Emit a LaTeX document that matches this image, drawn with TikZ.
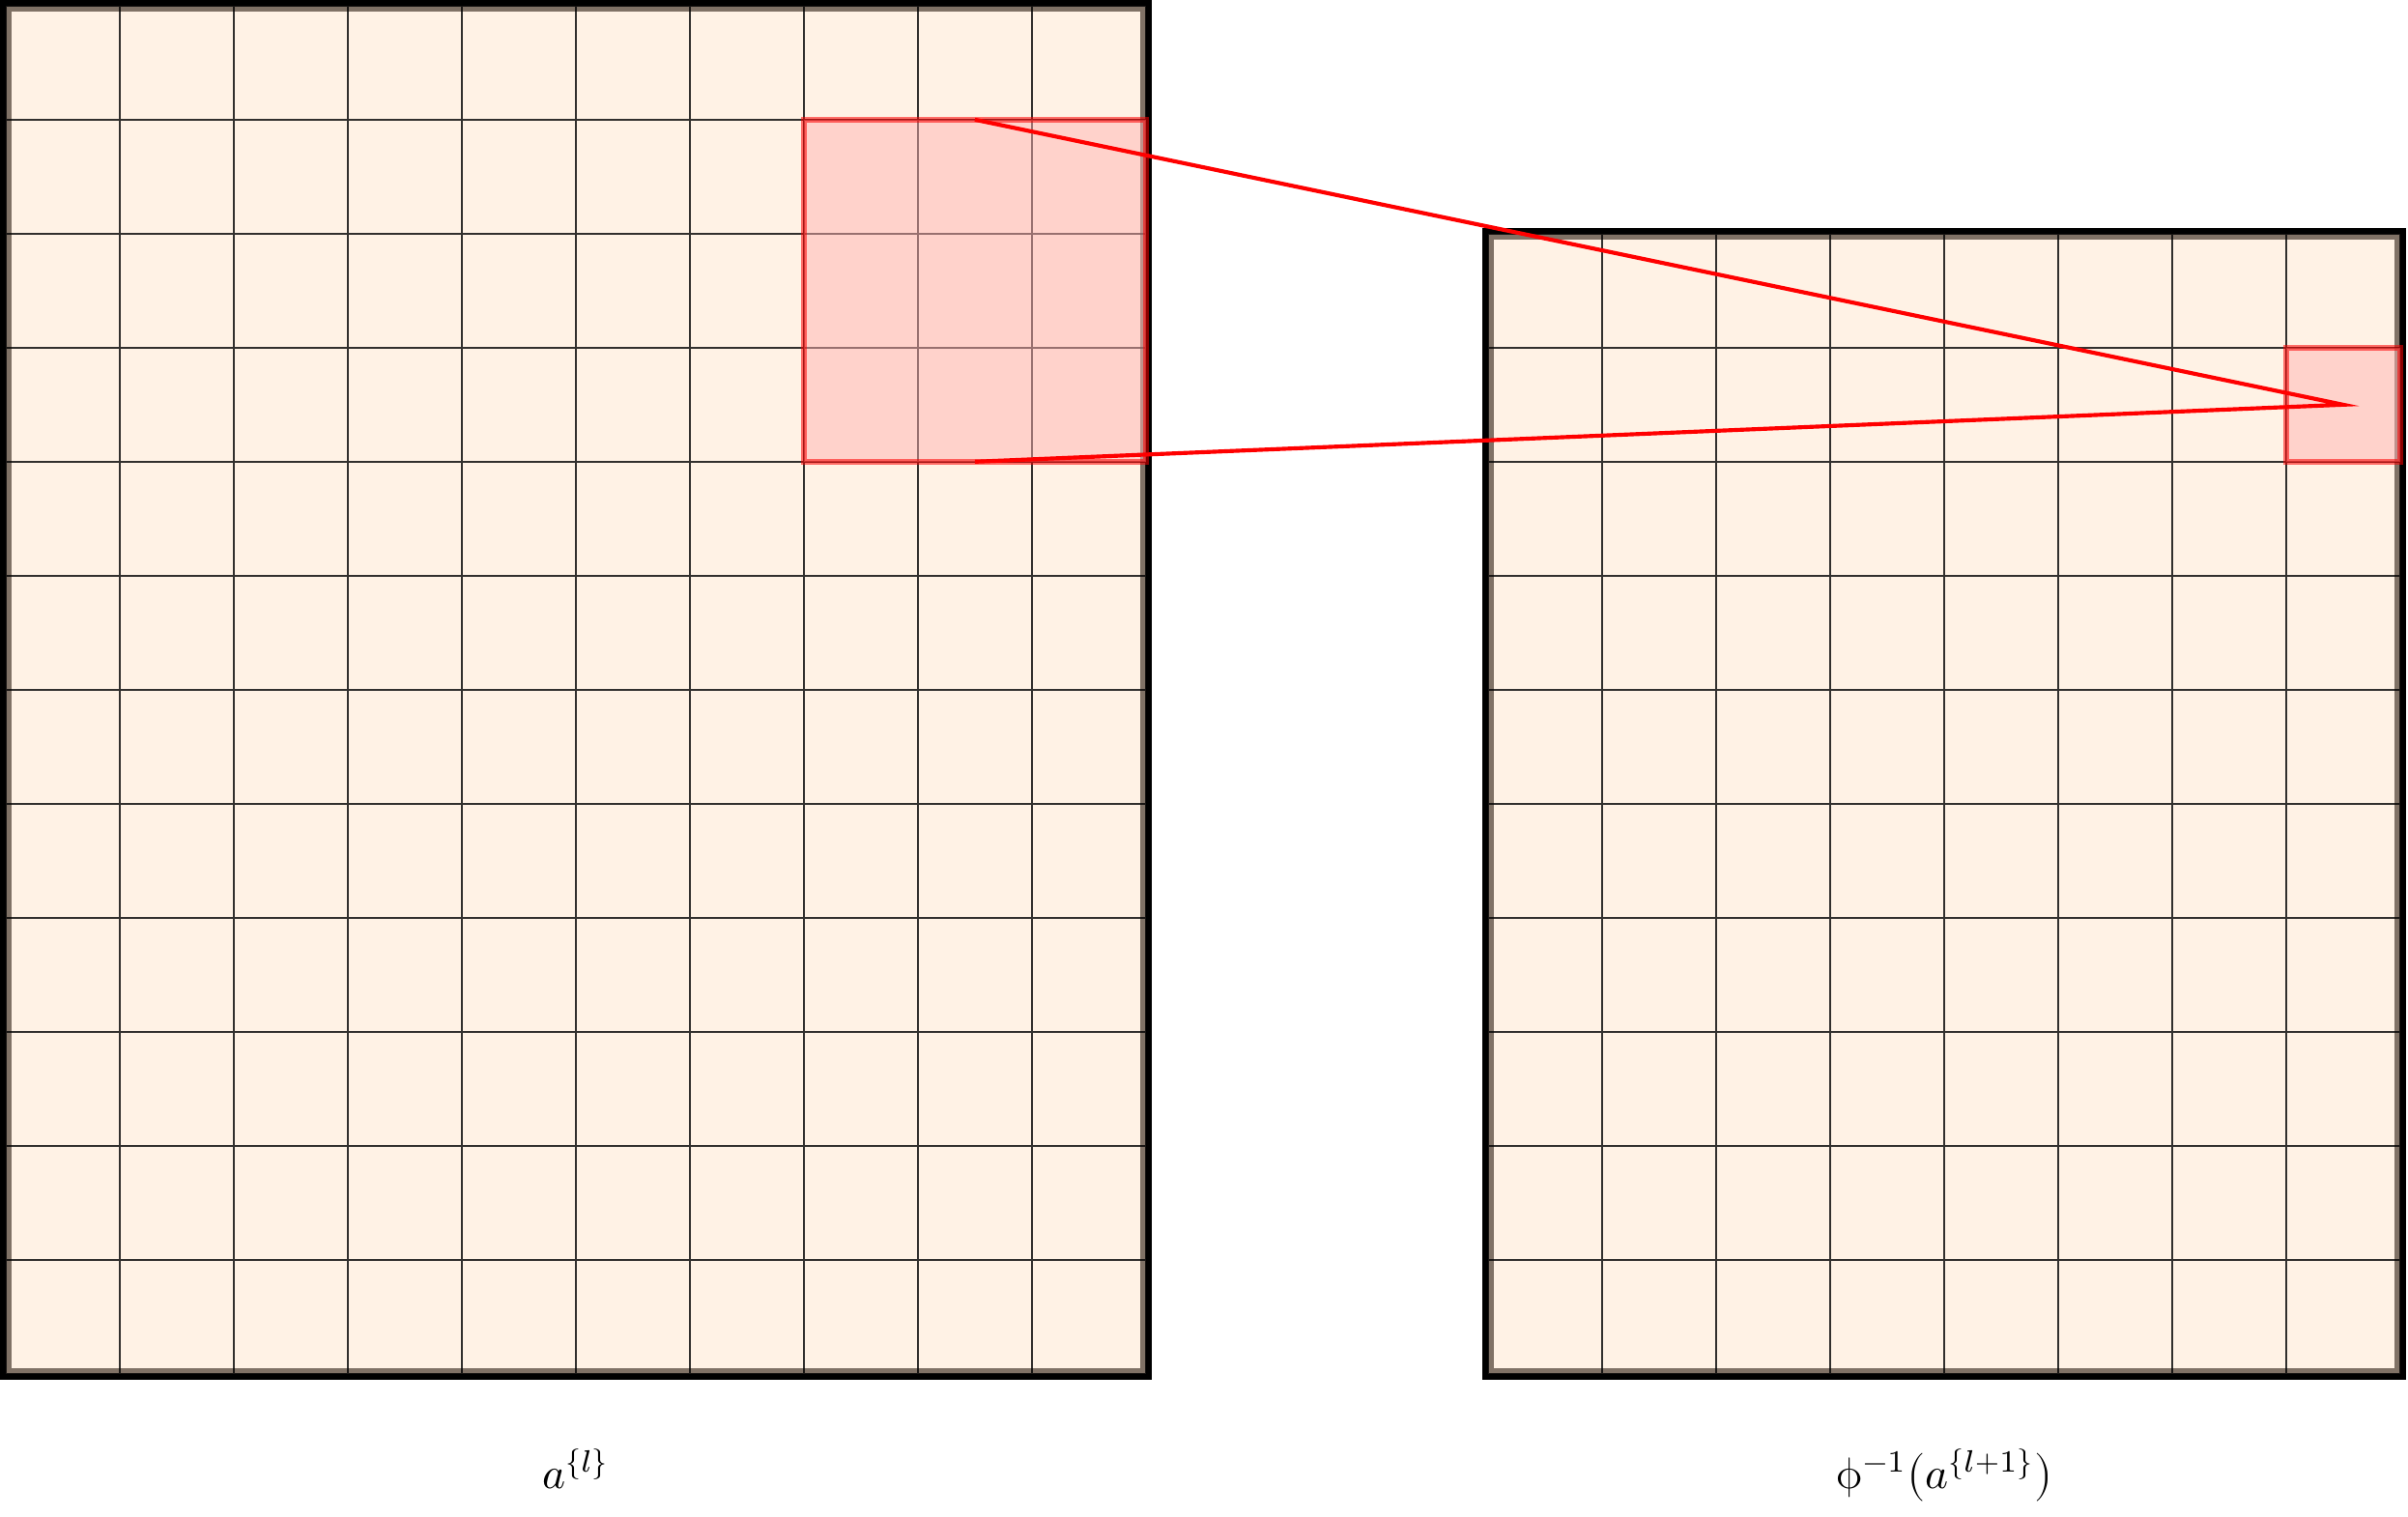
\documentclass[tikz,border=0pt]{standalone}
\usepackage{unicode-math}
\usepackage{tikz}
\usetikzlibrary{positioning}

\begin{document}
\begin{tikzpicture}[
    mapframe/.style={line width=0.1cm, draw=black},
    mapsheet/.style={fill=orange!20, fill opacity=0.5},
    mapgrid/.style={draw=black, line width=0.5pt, opacity=0.8},
    patch/.style={draw=red, draw opacity=0.55, line width=0.05cm, fill=red!30, fill opacity=0.5},
    link/.style={draw=red, line width=1pt},
    lbl/.style={anchor=base, font=\fontsize{11}{13}\selectfont}
  ]
  \useasboundingbox (-0.051,-1.254) rectangle (21.07,12.05);

  % Input map
  \draw[mapframe] (0,0) rectangle (10,12);
  \fill[mapsheet] (0,0) rectangle (10,12);
  \draw[mapgrid] (0,0) grid (10,12);

  % Output map
  \draw[mapframe] (13,0) rectangle (21,10);
  \fill[mapsheet] (13,0) rectangle (21,10);
  \draw[mapgrid] (13,0) grid (21,10);

  % Receptive field
  \draw[patch] (7,8) rectangle (10,11);
  \draw[patch] (20,8) rectangle (21,9);

  \coordinate (srctop) at (8.5,11);
  \coordinate (srcbot) at (8.5,8);
  \coordinate (tgt) at (20.5,8.5);
  \draw[link] (srctop) -- (tgt) -- (srcbot);

  % Labels
  \node[lbl] (inlbl) at (5,-1.005) {$a^{\{l\}}$};
  \node[lbl] (outlbl) at (17,-1.005) {$\symup{\phi}^{-1}\big(a^{\{l+1\}}\big)$};
\end{tikzpicture}
\end{document}
